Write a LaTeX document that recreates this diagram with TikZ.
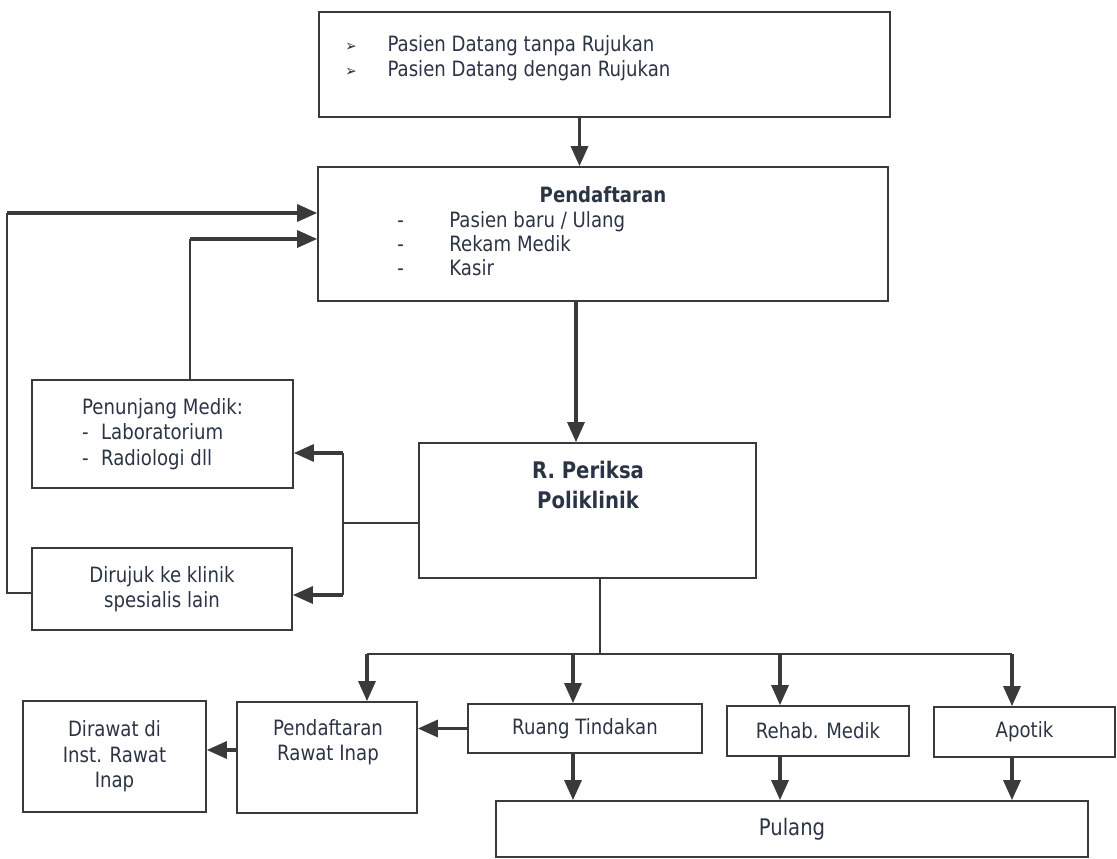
\documentclass[tikz,border=0pt]{standalone}
\usepackage{fontspec}
\setmainfont{DejaVu Sans}[FakeStretch=0.86]
\usetikzlibrary{arrows.meta, positioning}
\definecolor{ink}{HTML}{3A3A3A}
\definecolor{txt}{HTML}{2B3445}

\begin{document}
\begin{tikzpicture}[x=0.02cm, y=-0.02cm,
    box/.style={draw=ink, line width=1pt, rectangle, inner sep=0pt, text=txt, align=center, font=\fontsize{12}{14.5}\selectfont},
    lbl/.style={inner sep=0pt, text=txt, align=left, font=\fontsize{12}{14.5}\selectfont},
    head/.style={inner sep=0pt, text=txt, align=center, font=\bfseries\fontsize{12}{14.5}\selectfont},
    arr/.style={draw=ink, line width=1.8pt, -{Triangle[length=0.4cm, width=0.34cm]}},
    wire/.style={draw=ink, line width=1pt}]
    \useasboundingbox (0,0) rectangle (1117,859);

    % boxes
    \node[box, minimum width=11.42cm, minimum height=2.1cm] (arrival) at (604.5,64.5) {};
    \node[box, minimum width=11.4cm, minimum height=2.68cm] (daftar) at (603,234) {};
    \node[box, align=left, minimum width=5.22cm, minimum height=2.16cm] (penunjang) at (162.5,434) {Penunjang Medik:\\\makebox[10.8pt][l]{-}Laboratorium\\\makebox[10.8pt][l]{-}Radiologi dll};
    \node[box, minimum width=5.2cm, minimum height=1.64cm] (dirujuk) at (162,589) {Dirujuk ke klinik\\spesialis lain};
    \node[box, minimum width=6.74cm, minimum height=2.7cm] (periksa) at (587.5,510.5) {};
    \node[box, minimum width=3.66cm, minimum height=2.22cm] (dirawat) at (114.5,756.5) {Dirawat di\\Inst. Rawat\\Inap};
    \node[box, minimum width=3.6cm, minimum height=2.22cm] (daftarInap) at (327,757.5) {};
    \node[box, minimum width=4.68cm, minimum height=0.98cm] (ruang) at (585,728.5) {Ruang Tindakan};
    \node[box, minimum width=3.64cm, minimum height=1cm] (rehab) at (818,731) {Rehab. Medik};
    \node[box, minimum width=3.62cm, minimum height=1cm] (apotik) at (1024.5,732) {Apotik};
    \node[box, minimum width=11.84cm, minimum height=1.12cm, font=\fontsize{13}{15}\selectfont] (pulang) at (792,829) {Pulang};

    % texts
    \node[lbl, anchor=west] (arrivalText) at (345,58) {\makebox[24pt][l]{\fontsize{9}{9}\selectfont ➢}Pasien Datang tanpa Rujukan\\\makebox[24pt][l]{\fontsize{9}{9}\selectfont ➢}Pasien Datang dengan Rujukan};
    \node[head] (daftarHead) at (603,195) {Pendaftaran};
    \node[lbl, anchor=west, font=\fontsize{12}{13.7}\selectfont] (daftarText) at (397,244) {\makebox[29.6pt][l]{-}Pasien baru / Ulang\\\makebox[29.6pt][l]{-}Rekam Medik\\\makebox[29.6pt][l]{-}Kasir};
    \node[head, font=\bfseries\fontsize{13}{17}\selectfont] (periksaText) at (588,485) {R. Periksa\\Poliklinik};
    \node[lbl, align=center] (daftarInapText) at (328,742) {Pendaftaran\\Rawat Inap};

    % helper points
    \coordinate (loopL) at (7,213);
    \coordinate (labUp) at (190,239);
    \coordinate (split) at (343,523);
    \coordinate (splitTop) at (343,453);
    \coordinate (splitBot) at (343,595);
    \coordinate (bus) at (600,654);
    \coordinate (busL) at (367,654);
    \coordinate (busR) at (1012,654);

    % connectors
    \draw[arr] ([xshift=-0.5cm]arrival.south) -- ([xshift=-0.5cm]arrival.south |- daftar.north);
    \draw[arr] ([xshift=-0.54cm]daftar.south) -- ([xshift=-0.54cm]daftar.south |- periksa.north);
    \draw[wire] ([yshift=-0.08cm]dirujuk.west) -| (loopL);
    \draw[arr] (loopL) -- (loopL -| daftar.west);
    \draw[wire] (labUp |- penunjang.north) -- (labUp);
    \draw[arr] (labUp) -- (labUp -| daftar.west);

    \draw[wire] (split -| periksa.west) -- (split);
    \draw[wire] (splitTop) -- (splitBot);
    \draw[arr] (splitTop) -- (splitTop -| penunjang.east);
    \draw[arr] (splitBot) -- (splitBot -| dirujuk.east);

    \draw[wire] (bus |- periksa.south) -- (bus);
    \draw[wire] (busL) -- (busR);
    \draw[arr] (busL) -- (busL |- daftarInap.north);
    \draw[arr] ([xshift=-0.24cm]ruang.north |- bus) -- ([xshift=-0.24cm]ruang.north);
    \draw[arr] ([xshift=-0.76cm]rehab.north |- bus) -- ([xshift=-0.76cm]rehab.north);
    \draw[arr] (busR) -- (busR |- apotik.north);

    \draw[arr] (ruang.west) -- (ruang.west -| daftarInap.east);
    \draw[arr] ([yshift=0.15cm]daftarInap.west) -- ([yshift=0.15cm]daftarInap.west -| dirawat.east);

    \draw[arr] ([xshift=-0.24cm]ruang.south) -- ([xshift=-0.24cm]ruang.south |- pulang.north);
    \draw[arr] ([xshift=-0.76cm]rehab.south) -- ([xshift=-0.76cm]rehab.south |- pulang.north);
    \draw[arr] (busR |- apotik.south) -- (busR |- pulang.north);
\end{tikzpicture}
\end{document}
